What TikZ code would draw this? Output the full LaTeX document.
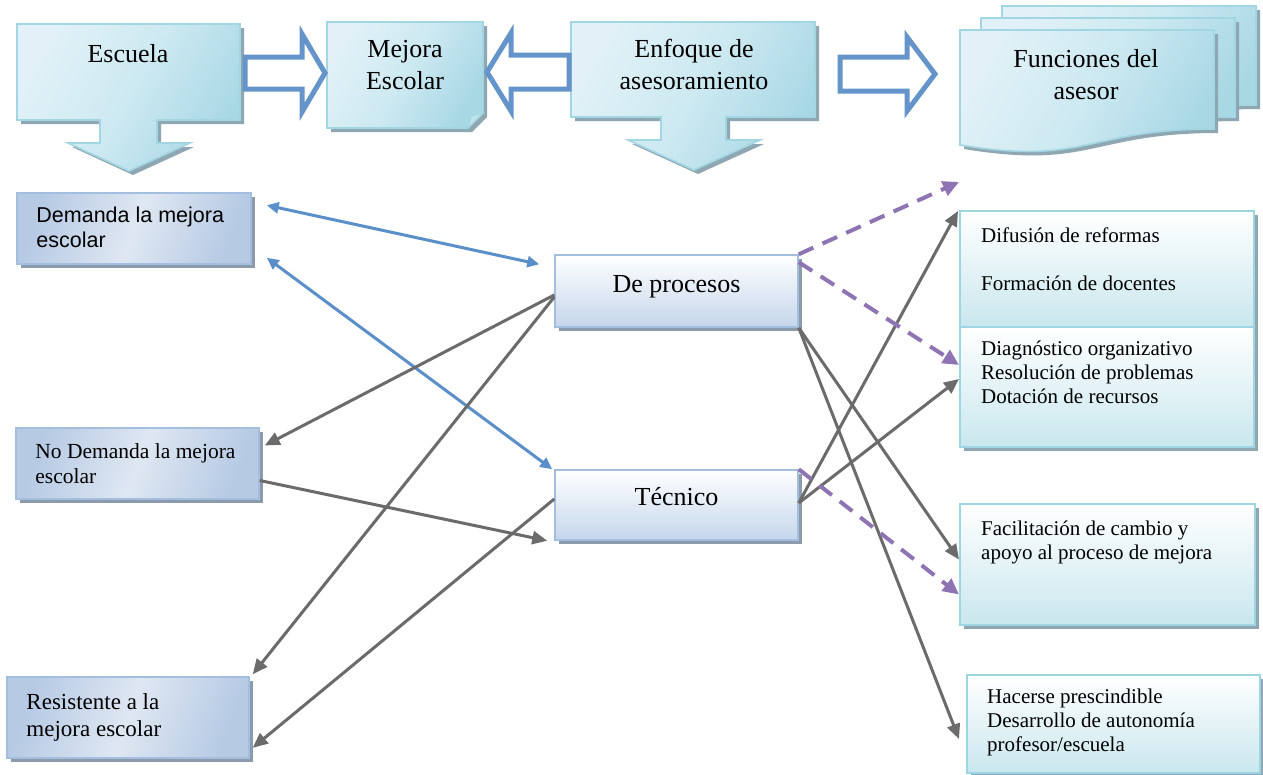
\documentclass[tikz,border=0pt]{standalone}
\usepackage{fontspec}
\setmainfont{Liberation Serif}
\newfontfamily\arialfont{Liberation Sans}
\usetikzlibrary{arrows.meta,calc,shadows}

\definecolor{tbLight}{HTML}{E1F1F7}
\definecolor{tbMid}{HTML}{CDE9F1}
\definecolor{tbDark}{HTML}{A9D8E5}
\definecolor{tbEdge}{HTML}{A2D6E3}
\definecolor{tbShadow}{HTML}{8FA7B2}
\definecolor{lbA}{HTML}{B6CAE4}
\definecolor{lbB}{HTML}{DFE7F2}
\definecolor{lbEdge}{HTML}{A3BEDF}
\definecolor{lbShadow}{HTML}{8C9BAC}
\definecolor{pbBottom}{HTML}{C5D6EB}
\definecolor{rbBottom}{HTML}{C9E7EE}
\definecolor{rbEdge}{HTML}{9DD5E2}
\definecolor{arrowBlue}{HTML}{6494C9}
\definecolor{linkBlue}{HTML}{5B8FCA}
\definecolor{linkGray}{HTML}{6B6B6B}
\definecolor{linkPurple}{HTML}{8F74B4}
\definecolor{foldC}{HTML}{BFE2EB}

% top-row shapes, drawn once as shadow and once as face
\newcommand\EscuelaShape[1]{\path[#1] (17,24) -- (240,24) -- (240,120) -- (157,120) -- (157,143)
  -- (190,143) -- (129,171) -- (68,143) -- (100,143) -- (100,120) -- (17,120) -- cycle;}
\newcommand\EnfoqueShape[1]{\path[#1] (571,22) -- (815,22) -- (815,117) -- (726,117) -- (726,140)
  -- (760,140) -- (694,170) -- (628,140) -- (661,140) -- (661,117) -- (571,117) -- cycle;}
\newcommand\MejoraShape[1]{\path[#1] (327,22) -- (483,22) -- (483,113) -- (468,128) -- (327,128) -- cycle;}
\newcommand\DocShape[1]{\path[#1] (0,0) -- (254,0) -- (254,99)
  .. controls (127,99) and (127,136) .. (0,115) -- cycle;}

\begin{document}
\begin{tikzpicture}[x=1pt,y=-1pt,
  topface/.style={draw=tbEdge, line width=1.6pt, left color=tbLight, right color=tbDark,
    middle color=tbMid, shading angle=60},
  topshadow/.style={fill=tbShadow, shift={(4,4)}},
  hollow/.style={draw=arrowBlue, line width=5pt, fill=white, line join=miter},
  lbox/.style={rectangle, inner sep=0, draw=lbEdge, line width=1.5pt,
    left color=lbA, right color=lbA, middle color=lbB, shading angle=70,
    general shadow={fill=lbShadow, shadow xshift=4pt, shadow yshift=-4pt}},
  pbox/.style={rectangle, inner sep=0, draw=lbEdge, line width=1.5pt,
    top color=white, bottom color=pbBottom,
    general shadow={fill=lbShadow, shadow xshift=4pt, shadow yshift=-4pt}},
  rbox/.style={rectangle, inner sep=0, draw=rbEdge, line width=2pt,
    top color=white, bottom color=rbBottom,
    general shadow={fill=tbShadow, shadow xshift=4pt, shadow yshift=-4pt}},
  bigtxt/.style={font=\fontsize{26}{32}\selectfont, inner sep=0, align=center},
  rtxt/.style={font=\fontsize{21}{24}\selectfont, inner sep=0, align=left, anchor=base west},
  ltxt/.style={font=\fontsize{21.5}{25}\selectfont, inner sep=0, align=left, anchor=base west},
  bluecon/.style={draw=linkBlue, line width=3pt,
    {Triangle[length=12pt,width=11pt]}-{Triangle[length=12pt,width=11pt]}},
  graycon/.style={draw=linkGray, line width=3pt, -{Triangle[length=15pt,width=13pt]}},
  purplecon/.style={draw=linkPurple, line width=4pt, dash pattern=on 16pt off 10pt,
    -{Triangle[length=16pt,width=15pt]}}
]
\fill[white] (0,0) rectangle (1263,774);
\useasboundingbox (0,0) rectangle (1263,774);

% ---------- top row ----------
% (a multi-line node's base anchor sits on its last line)
\EscuelaShape{topshadow}
\EscuelaShape{topface}
\node[bigtxt, anchor=base] (escuela) at (128,62) {Escuela};

\MejoraShape{topshadow}
\MejoraShape{topface}
\path[fill=foldC, draw=tbEdge, line width=1pt] (483,113) -- (468,128) -- (471,116) -- cycle;
\node[bigtxt, anchor=base] (mejora) at (405,89) {Mejora\\Escolar};

\EnfoqueShape{topshadow}
\EnfoqueShape{topface}
\node[bigtxt, anchor=base] (enfoque) at (694,89) {Enfoque de\\asesoramiento};

% stacked documents
\begin{scope}[shift={(1002,6)}]
  \DocShape{topshadow}
  \DocShape{topface}
\end{scope}
\begin{scope}[shift={(981,18)}]
  \DocShape{topshadow}
  \DocShape{topface}
\end{scope}
\begin{scope}[shift={(960,30)}]
  \DocShape{topshadow}
  \DocShape{topface}
\end{scope}
\node[bigtxt, anchor=base] (funciones) at (1086,99) {Funciones del\\asesor};

% hollow block arrows
\path[hollow] (245,57) -- (302,57) -- (302,34) -- (325,73) -- (302,112) -- (302,89) -- (245,89) -- cycle;
\path[hollow] (569,55) -- (511,55) -- (511,33) -- (487,72) -- (511,111) -- (511,89) -- (569,89) -- cycle;
\path[hollow] (840,57) -- (907,57) -- (907,37) -- (935,74) -- (907,111) -- (907,91) -- (840,91) -- cycle;

% ---------- school types ----------
\node[lbox, minimum width=234pt, minimum height=71pt] (dem) at (134,228.5) {};
\node[ltxt, font=\arialfont\fontsize{21.5}{25}\selectfont] (demT) at ($(dem.north west)+(20,55)$)
  {Demanda la mejora\\escolar};
\node[lbox, minimum width=243pt, minimum height=71pt] (nodem) at (137.5,463.5) {};
\node[ltxt] (nodemT) at ($(nodem.north west)+(20,56)$) {No Demanda la mejora\\escolar};
\node[lbox, minimum width=242pt, minimum height=81pt] (res) at (128,717.5) {};
\node[ltxt, font=\fontsize{23}{27}\selectfont] (resT) at ($(res.north west)+(20,60)$)
  {Resistente a la\\mejora escolar};

% ---------- approaches ----------
\node[pbox, minimum width=243pt, minimum height=72pt] (proc) at (676.5,291) {};
\node[bigtxt, anchor=base] (procT) at ($(proc.center)+(0,1)$) {De procesos};
\node[pbox, minimum width=243pt, minimum height=70pt] (tec) at (676.5,505) {};
\node[bigtxt, anchor=base] (tecT) at ($(tec.center)+(0,0)$) {Técnico};

% ---------- adviser functions ----------
\node[rbox, minimum width=294pt, minimum height=116pt] (f1) at (1107,269) {};
\node[rbox, minimum width=294pt, minimum height=120pt] (f2) at (1107,387) {};
\node[rbox, minimum width=295pt, minimum height=121pt] (f3) at (1107.5,564.5) {};
\node[rbox, minimum width=293pt, minimum height=98pt] (f4) at (1113.5,724) {};
\node[rtxt] (f1T) at ($(f1.north west)+(22,80)$) {Difusión de reformas\\[24pt]Formación de docentes};
\node[rtxt] (f2T) at ($(f2.north west)+(22,77)$) {Diagnóstico organizativo\\Resolución de problemas\\Dotación de recursos};
\node[rtxt] (f3T) at ($(f3.north west)+(22,56)$) {Facilitación de cambio y\\apoyo al proceso de mejora};
\node[rtxt] (f4T) at ($(f4.north west)+(21,77)$) {Hacerse prescindible\\Desarrollo de autonomía\\profesor/escuela};

% ---------- connectors ----------
\draw[bluecon] ($(dem.north east)+(15,13)$) -- ($(proc.north west)+(-15,10)$);
\draw[bluecon] ($(dem.south east)+(15,-7)$) -- ($(tec.north west)+(-2,0)$);

\draw[graycon] ($(proc.west)+(0,4)$) -- ($(nodem.east)+(5,-18)$);
\draw[graycon] ($(proc.west)+(0,6)$) -- ($(res.north east)+(3,-2)$);
\draw[graycon] ($(nodem.east)+(0,17)$) -- ($(tec.south west)+(-7,0)$);
\draw[graycon] ($(tec.west)+(0,-6)$) -- ($(res.south east)+(3,-11)$);
\draw[graycon] (proc.south east) -- ($(f3.west)+(0,-5)$);
\draw[graycon] (proc.south east) -- ($(f4.west)+(-7,15)$);
\draw[graycon] ($(tec.east)+(0,-2)$) -- ($(f1.north west)+(-1,1)$);
\draw[graycon] ($(tec.east)+(0,-2)$) -- ($(f2.west)+(0,-8)$);

\draw[purplecon] (proc.north east) -- ($(f1.north west)+(0,-28)$);
\draw[purplecon] ($(proc.north east)+(0,8)$) -- ($(f2.west)+(0,-22)$);
\draw[purplecon] (tec.north east) -- ($(f3.west)+(0,30)$);
\end{tikzpicture}
\end{document}
